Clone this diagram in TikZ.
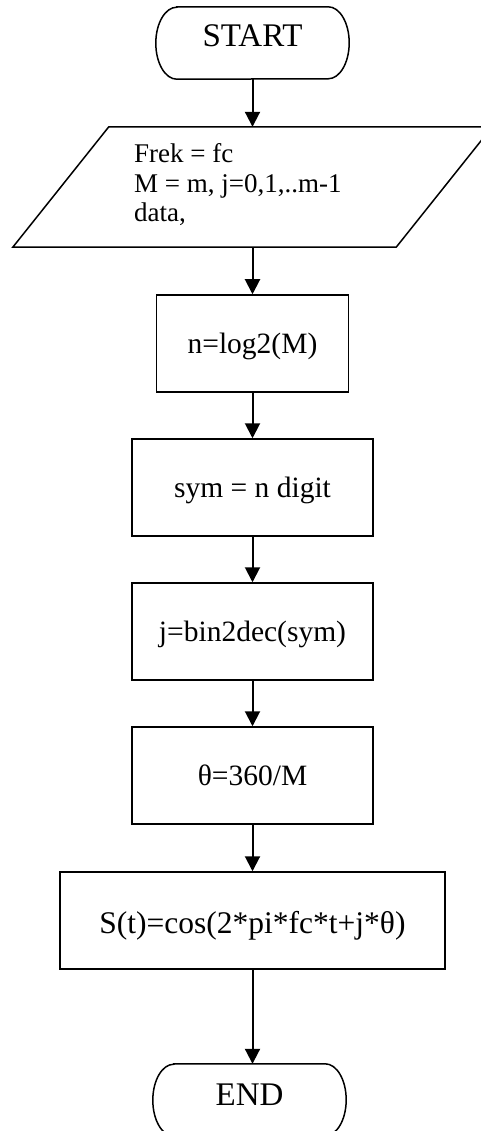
\documentclass[tikz,border=0pt]{standalone}
\usepackage{fontspec}
\setmainfont{Liberation Serif}
\usetikzlibrary{arrows.meta}
\begin{document}
\begin{tikzpicture}[x=1pt,y=1pt,
  box/.style={draw, line width=1.5pt, minimum height=97pt, inner sep=0pt, text height=20pt, text depth=0pt, font=\fontsize{29.5}{34}\selectfont},
  term/.style={minimum width=193pt, minimum height=72pt, inner sep=0pt, text depth=0pt, font=\fontsize{33}{38}\selectfont},
  flow/.style={line width=2pt, -{Triangle[length=15pt,width=15pt]}},
  outline/.style={line width=1.5pt}]
\useasboundingbox (0,0) rectangle (481,-1131);
\clip (0,0) rectangle (481,-1131);
% START
\node[term, text height=8pt] (start) at (252.5,-43) {START};
\draw[outline] ([xshift=21pt]start.north west) -- ([xshift=-21pt]start.north east)
  arc[start angle=90,end angle=-90,x radius=21pt,y radius=36pt]
  -- ([xshift=21pt]start.south west)
  arc[start angle=270,end angle=90,x radius=21pt,y radius=36pt] -- cycle;
% input parallelogram
\node[minimum width=383pt, minimum height=120pt, inner sep=0pt] (in) at (252.5,-187) {};
\draw[outline] ([xshift=-48pt]in.south west) -- ([xshift=-48pt]in.south east)
  -- ([xshift=48pt]in.north east) -- ([xshift=48pt]in.north west) -- cycle;
\node[anchor=north west, align=left, inner sep=0pt, font=\fontsize{27}{29.5}\selectfont] (intext) at (134,-143.5)
  {Frek = fc\\M = m, j=0,1,..m-1\\data,};
% process boxes
\node[box, minimum width=192pt] (log) at (252.5,-343.5) {n=log2(M)};
\node[box, minimum width=241pt] (sym) at (252.5,-487.5) {sym = n digit};
\node[box, minimum width=241pt] (bin) at (252.5,-631.5) {j=bin2dec(sym)};
\node[box, minimum width=241pt] (theta) at (252.5,-775.5) {θ=360/M};
\node[box, minimum width=385pt, text height=25pt, font=\fontsize{31.5}{36}\selectfont] (s) at (252.5,-920.5) {S(t)=cos(2*pi*fc*t+j*θ)};
% END
\node[term, text height=10pt] (end) at (249.5,-1100) {END};
\draw[outline] ([xshift=21pt]end.north west) -- ([xshift=-21pt]end.north east)
  arc[start angle=90,end angle=-90,x radius=21pt,y radius=36pt]
  -- ([xshift=21pt]end.south west)
  arc[start angle=270,end angle=90,x radius=21pt,y radius=36pt] -- cycle;
% connectors
\draw[flow] (start.south) -- (in.north);
\draw[flow] (in.south) -- (log.north);
\draw[flow] (log.south) -- (sym.north);
\draw[flow] (sym.south) -- (bin.north);
\draw[flow] (bin.south) -- (theta.north);
\draw[flow] (theta.south) -- (s.north);
\draw[flow] (s.south) -- (s.south |- end.north);
\end{tikzpicture}
\end{document}
